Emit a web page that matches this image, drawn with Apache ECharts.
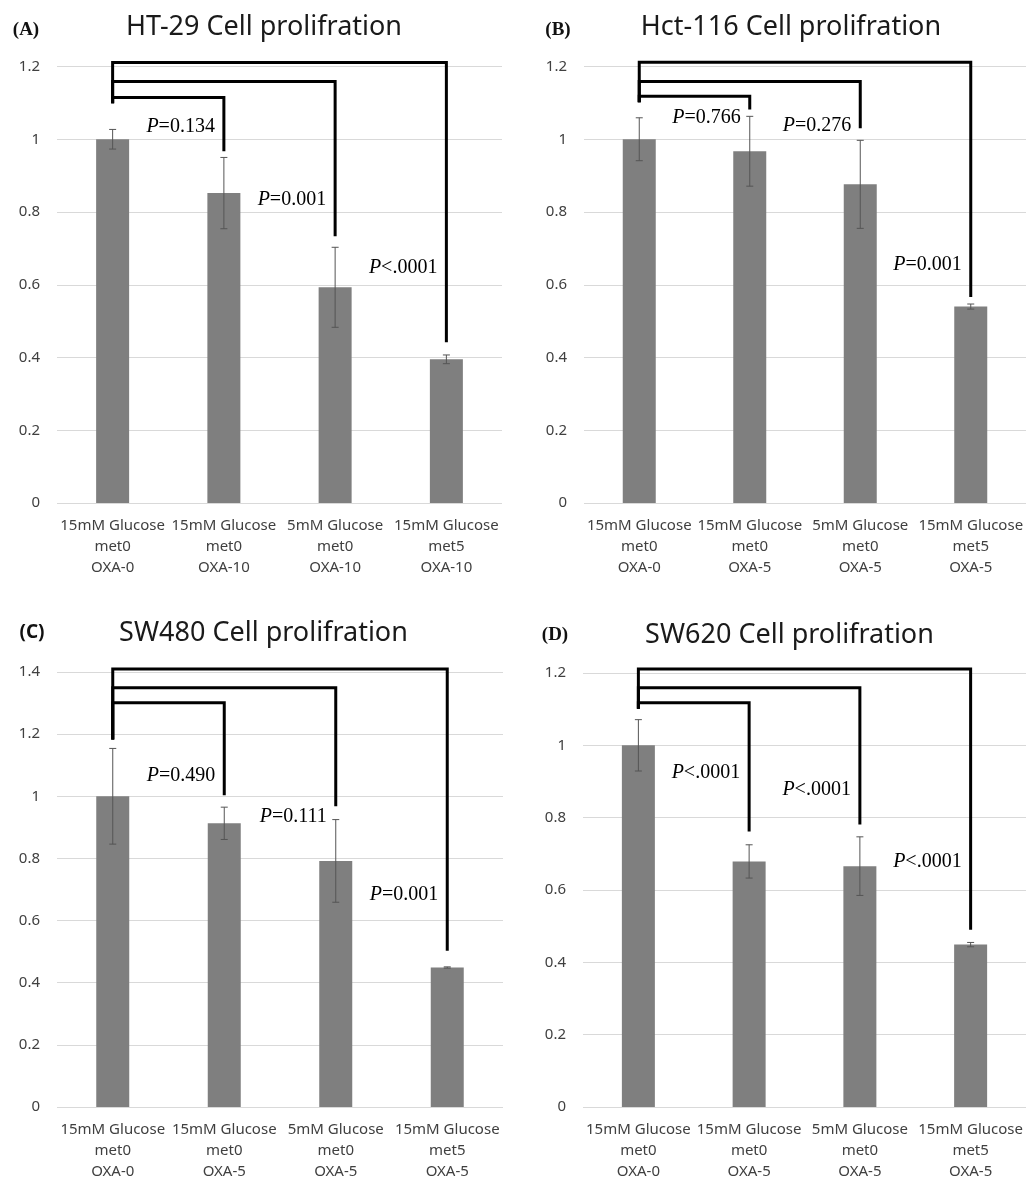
<!DOCTYPE html>
<html><head><meta charset="utf-8">
<script src="https://cdn.jsdelivr.net/npm/echarts@6/dist/echarts.min.js"></script>
<style>html,body{margin:0;padding:0;background:#fff}#c{width:1026px;height:1182px}</style>
</head><body><div id="c"></div>
<script>
// ---------- data ----------
const catsA = ['15mM Glucose\nmet0\nOXA-0', '15mM Glucose\nmet0\nOXA-10', '5mM Glucose\nmet0\nOXA-10', '15mM Glucose\nmet5\nOXA-10'];
const catsB = ['15mM Glucose\nmet0\nOXA-0', '15mM Glucose\nmet0\nOXA-5', '5mM Glucose\nmet0\nOXA-5', '15mM Glucose\nmet5\nOXA-5'];
const catsC = ['15mM Glucose\nmet0\nOXA-0', '15mM Glucose\nmet0\nOXA-5', '5mM Glucose\nmet0\nOXA-5', '15mM Glucose\nmet5\nOXA-5'];
const catsD = ['15mM Glucose\nmet0\nOXA-0', '15mM Glucose\nmet0\nOXA-5', '5mM Glucose\nmet0\nOXA-5', '15mM Glucose\nmet5\nOXA-5'];

const titles = ['HT-29 Cell prolifration', 'Hct-116 Cell prolifration', 'SW480 Cell prolifration', 'SW620 Cell prolifration'];
const panelTags = ['(A)', '(B)', '(C)', '(D)'];

const meansA = [1.0, 0.852, 0.593, 0.395];
const errA   = [0.027, 0.098, 0.110, 0.012];
const meansB = [1.0, 0.967, 0.876, 0.540];
const errB   = [0.059, 0.096, 0.121, 0.007];
const meansC = [1.0, 0.913, 0.792, 0.449];
const errC   = [0.154, 0.052, 0.133, 0.002];
const meansD = [1.0, 0.679, 0.666, 0.449];
const errD   = [0.071, 0.046, 0.081, 0.006];

const yMaxA = 1.2, yMaxB = 1.2, yMaxC = 1.4, yMaxD = 1.2;
const yStep = 0.2;

// brackets: from bar 0 to bars 1..3 (level of horizontal, end value of right leg); start = left leg bottom
const brTopA = [1.115, 1.159, 1.211], brEndA = [0.967, 0.733, 0.442], brStartA = 1.099;
const brTopB = [1.118, 1.159, 1.212], brEndB = [1.082, 1.030, 0.566], brStartB = 1.102;
const brTopC = [1.301, 1.349, 1.410], brEndC = [1.003, 0.968, 0.503], brStartC = 1.183;
const brTopD = [1.118, 1.159, 1.211], brEndD = [0.762, 0.781, 0.490], brStartD = 1.101;

// p-value labels (for bars 1..3) and their vertical value positions
const pTextA = ['P=0.134', 'P=0.001', 'P<.0001'], pYA = [1.033, 0.835, 0.648];
const pTextB = ['P=0.766', 'P=0.276', 'P=0.001'], pYB = [1.060, 1.036, 0.654];
const pTextC = ['P=0.490', 'P=0.111', 'P=0.001'], pYC = [1.067, 0.933, 0.683];
const pTextD = ['P<.0001', 'P<.0001', 'P<.0001'], pYD = [0.923, 0.877, 0.679];

// ---------- layout ----------
const panels = [
  {cats: catsA, means: meansA, err: errA, ymax: yMaxA, brTop: brTopA, brEnd: brEndA, brStart: brStartA, pText: pTextA, pY: pYA,
   grid: {left: 57, top: 66.5, width: 445, height: 436.5}, tag: [26, 30], title: [264, 27], tagFont: 'bold 19px "Liberation Serif"'},
  {cats: catsB, means: meansB, err: errB, ymax: yMaxB, brTop: brTopB, brEnd: brEndB, brStart: brStartB, pText: pTextB, pY: pYB,
   grid: {left: 584, top: 66.5, width: 444, height: 436.5}, tag: [558, 30], title: [791, 27], tagFont: 'bold 19px "Liberation Serif"'},
  {cats: catsC, means: meansC, err: errC, ymax: yMaxC, brTop: brTopC, brEnd: brEndC, brStart: brStartC, pText: pTextC, pY: pYC,
   grid: {left: 57, top: 672, width: 446, height: 437}, tag: [32, 633], title: [263.5, 633], tagFont: 'bold 19px "Noto Sans"'},
  {cats: catsD, means: meansD, err: errD, ymax: yMaxD, brTop: brTopD, brEnd: brEndD, brStart: brStartD, pText: pTextD, pY: pYD,
   grid: {left: 583, top: 673, width: 445, height: 438}, tag: [555, 635], title: [789.5, 635], tagFont: 'bold 19px "Liberation Serif"'}
];

const grids = [], xAxes = [], yAxes = [], series = [], graphics = [];
panels.forEach((p, k) => {
  grids.push(Object.assign({containLabel: false}, p.grid));
  xAxes.push({
    type: 'category', gridIndex: k, data: p.cats,
    axisLine: {show: false}, axisTick: {show: false},
    axisLabel: {interval: 0, margin: 12, color: '#404040', fontFamily: 'Noto Sans', fontSize: 15, lineHeight: 21}
  });
  yAxes.push({
    type: 'value', gridIndex: k, min: 0, max: p.ymax, interval: yStep,
    axisLine: {show: false}, axisTick: {show: false},
    axisLabel: {margin: 17, color: '#404040', fontFamily: 'Noto Sans', fontSize: 15},
    splitLine: {lineStyle: {color: '#d9d9d9', width: 1}}
  });
  series.push({
    type: 'bar', xAxisIndex: k, yAxisIndex: k, data: p.means, barWidth: 33,
    itemStyle: {color: '#7f7f7f'}, silent: true, animation: false
  });
  // error bars
  series.push({
    type: 'custom', xAxisIndex: k, yAxisIndex: k, animation: false, silent: true, clip: false, z: 5,
    data: p.means.map((m, i) => [i, m, p.err[i]]),
    encode: {x: 0, y: 1},
    renderItem: function (params, api) {
      const i = api.value(0), m = api.value(1), e = api.value(2);
      const hi = api.coord([i, m + e]), lo = api.coord([i, m - e]);
      const w = 3.5;
      const st = {stroke: '#555555', lineWidth: 1};
      return {type: 'group', children: [
        {type: 'line', shape: {x1: hi[0], y1: hi[1], x2: lo[0], y2: lo[1]}, style: st},
        {type: 'line', shape: {x1: hi[0] - w, y1: hi[1], x2: hi[0] + w, y2: hi[1]}, style: st},
        {type: 'line', shape: {x1: lo[0] - w, y1: lo[1], x2: lo[0] + w, y2: lo[1]}, style: st}
      ]};
    }
  });
  // significance brackets
  series.push({
    type: 'custom', xAxisIndex: k, yAxisIndex: k, animation: false, silent: true, clip: false, z: 6,
    data: p.brTop.map((t, j) => [j + 1, t, p.brEnd[j], p.brStart]),
    encode: {x: 0, y: 1},
    renderItem: function (params, api) {
      const j = api.value(0), top = api.value(1), end = api.value(2), start = api.value(3);
      const a = api.coord([0, start]), b = api.coord([0, top]), c = api.coord([j, top]), d = api.coord([j, end]);
      return {type: 'polyline', shape: {points: [a, b, c, d]},
        style: {stroke: '#000', lineWidth: 3, fill: null, lineJoin: 'miter', lineCap: 'butt'}};
    }
  });
  // p-value labels
  series.push({
    type: 'custom', xAxisIndex: k, yAxisIndex: k, animation: false, silent: true, clip: false, z: 7,
    data: p.pY.map((y, j) => [j + 1, y]),
    encode: {x: 0, y: 1},
    renderItem: function (params, api) {
      const j = api.value(0), y = api.value(1);
      const pt = api.coord([j, y]);
      const txt = p.pText[params.dataIndex];
      return {type: 'text', x: pt[0] - 9, y: pt[1],
        style: {text: '{i|P}' + txt.slice(1), align: 'right', verticalAlign: 'middle',
          font: '20px "Liberation Serif"', fill: '#000',
          rich: {i: {fontStyle: 'italic', fontFamily: 'Liberation Serif', fontSize: 20, fill: '#000'}}}};
    }
  });
  graphics.push({type: 'text', x: p.tag[0], y: p.tag[1],
    style: {text: panelTags[k], font: p.tagFont, fill: '#111', align: 'center', verticalAlign: 'middle'}});
  graphics.push({type: 'text', x: p.title[0], y: p.title[1],
    style: {text: titles[k], font: '27px "Noto Sans"', fill: '#1a1a1a', align: 'center', verticalAlign: 'middle'}});
});

const chart = echarts.init(document.getElementById('c'), null, {renderer: 'canvas'});
chart.setOption({
  backgroundColor: '#fff', animation: false,
  grid: grids, xAxis: xAxes, yAxis: yAxes, series: series, graphic: graphics
});
</script></body></html>
